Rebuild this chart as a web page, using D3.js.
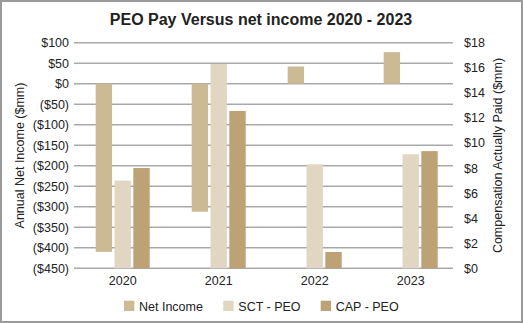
<!DOCTYPE html>
<html>
<head>
<meta charset="utf-8">
<script src="https://cdn.jsdelivr.net/npm/d3@7"></script>
<style>
  html, body { margin: 0; padding: 0; background: #fff; }
  svg { display: block; font-family: "Liberation Sans", Arial, Helvetica, sans-serif; }
</style>
</head>
<body>
<svg id="chart" width="523" height="323"></svg>
<script>
// Fiscal years
const years = ["2020", "2021", "2022", "2023"];
// Annual net income, $mm (left axis)
const netIncome = [-410, -312, 42, 77];
// Summary Compensation Table total for the PEO, $mm (right axis)
const sctPeo = [7.0, 16.3, 8.3, 9.1];
// Compensation actually paid to the PEO, $mm (right axis)
const capPeo = [8.0, 12.55, 1.3, 9.35];

const seriesNames = ["Net Income", "SCT - PEO", "CAP - PEO"];
const seriesColors = ["#cdb993", "#e1d6c1", "#bca274"];

const leftTicks = [100, 50, 0, -50, -100, -150, -200, -250, -300, -350, -400, -450];
const rightTicks = [0, 2, 4, 6, 8, 10, 12, 14, 16, 18];

const svg = d3.select("#chart");
const W = 523, H = 323;

// outer frame
svg.append("rect")
  .attr("x", 1).attr("y", 1).attr("width", W - 2).attr("height", H - 2)
  .attr("fill", "#fff").attr("stroke", "#9a9a9a").attr("stroke-width", 2);

const plotTop = 42.7, plotBottom = 268.3, gridL = 74, gridR = 453;

const yLeft = d3.scaleLinear().domain([-450, 100]).range([plotBottom, plotTop]);
const yRight = d3.scaleLinear().domain([0, 18]).range([plotBottom, plotTop]);
const x = d3.scaleBand().domain(years).range([74.7, 458.7]);
const xInner = d3.scaleBand().domain(seriesNames).range([-27, 27]).paddingInner(0.13);

const fmtMoney = v => v < 0 ? "($" + Math.abs(v) + ")" : "$" + v;

// horizontal gridlines
svg.append("g").selectAll("line").data(leftTicks).join("line")
  .attr("x1", gridL).attr("x2", gridR)
  .attr("y1", d => yLeft(d)).attr("y2", d => yLeft(d))
  .attr("stroke", "#a9a9a9").attr("stroke-width", 1.4);

// left axis labels
const axisL = d3.axisLeft(yLeft).tickValues(leftTicks).tickFormat(fmtMoney).tickSize(0).tickPadding(0);
svg.append("g").attr("transform", `translate(69,0)`).call(axisL)
  .call(g => g.select(".domain").remove())
  .selectAll("text").attr("font-size", 12.5).attr("fill", "#222")
  .attr("font-family", "Liberation Sans, Arial, sans-serif");

// right axis labels
const axisR = d3.axisRight(yRight).tickValues(rightTicks).tickFormat(d => "$" + d).tickSize(0).tickPadding(0);
svg.append("g").attr("transform", `translate(464,0)`).call(axisR)
  .call(g => g.select(".domain").remove())
  .selectAll("text").attr("font-size", 12.5).attr("fill", "#222")
  .attr("font-family", "Liberation Sans, Arial, sans-serif");

// category labels
const axisB = d3.axisBottom(x).tickSize(0).tickPadding(0);
svg.append("g").attr("transform", `translate(0,276)`).call(axisB)
  .call(g => g.select(".domain").remove())
  .selectAll("text").attr("font-size", 12.5).attr("fill", "#222")
  .attr("font-family", "Liberation Sans, Arial, sans-serif");

// bars
const rows = years.map((yr, i) => ({ yr, i }));
const groups = svg.append("g").selectAll("g").data(rows).join("g")
  .attr("transform", d => `translate(${x(d.yr) + x.bandwidth() / 2},0)`);

groups.append("rect")
  .attr("x", xInner("Net Income")).attr("width", xInner.bandwidth())
  .attr("y", d => yLeft(Math.max(0, netIncome[d.i])))
  .attr("height", d => Math.abs(yLeft(netIncome[d.i]) - yLeft(0)))
  .attr("fill", seriesColors[0]);

groups.append("rect")
  .attr("x", xInner("SCT - PEO")).attr("width", xInner.bandwidth())
  .attr("y", d => yRight(sctPeo[d.i]))
  .attr("height", d => yRight(0) - yRight(sctPeo[d.i]))
  .attr("fill", seriesColors[1]);

groups.append("rect")
  .attr("x", xInner("CAP - PEO")).attr("width", xInner.bandwidth())
  .attr("y", d => yRight(capPeo[d.i]))
  .attr("height", d => yRight(0) - yRight(capPeo[d.i]))
  .attr("fill", seriesColors[2]);

// title
svg.append("text").attr("x", 261).attr("y", 25).attr("text-anchor", "middle")
  .attr("font-size", 16).attr("font-weight", "bold").attr("fill", "#222")
  .text("PEO Pay Versus net income 2020 - 2023");

// axis titles
svg.append("text").attr("transform", `translate(24,155.5) rotate(-90)`)
  .attr("text-anchor", "middle").attr("font-size", 12.5).attr("fill", "#222")
  .text("Annual Net Income ($mm)");
svg.append("text").attr("transform", `translate(502,155.5) rotate(-90)`)
  .attr("text-anchor", "middle").attr("font-size", 12.5).attr("fill", "#222")
  .text("Compensation Actually Paid ($mm)");

// legend
const legendX = [124, 223.3, 320.7];
const lg = svg.append("g").selectAll("g").data(seriesNames).join("g")
  .attr("transform", (d, i) => `translate(${legendX[i]},300.7)`);
lg.append("rect").attr("width", 10.3).attr("height", 10.3)
  .attr("fill", (d, i) => seriesColors[i]);
lg.append("text").attr("x", 15).attr("y", 10).attr("font-size", 12.5).attr("fill", "#222")
  .text(d => d);
</script>
</body>
</html>
